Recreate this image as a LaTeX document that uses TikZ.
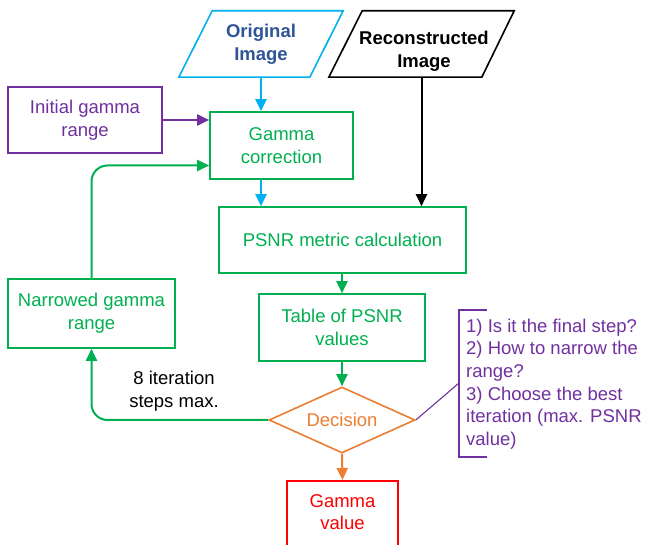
\documentclass[tikz,border=0pt]{standalone}
\usepackage{fontspec}
\setmainfont{Liberation Sans}
\usetikzlibrary{arrows.meta,shapes.geometric,calc}
\definecolor{cgreen}{RGB}{0,176,80}
\definecolor{ccyan}{RGB}{0,176,240}
\definecolor{cpurple}{RGB}{112,48,160}
\definecolor{corange}{RGB}{237,125,49}
\definecolor{cred}{RGB}{255,0,0}
\definecolor{cblue}{RGB}{47,85,151}
\begin{document}
\begin{tikzpicture}[x=1pt,y=-1pt,
  every node/.style={font=\fontsize{18.5}{22.6}\selectfont, align=center, inner sep=0pt},
  box/.style={draw, line width=1.6pt},
  arr/.style={-{Triangle[length=12pt,width=11pt]}, line width=2pt},
  note/.style={line width=1.1pt, cpurple}]
\useasboundingbox (0,0) rectangle (646,545);

% input parallelograms
\node[font=\fontsize{18.5}{22.6}\selectfont\bfseries, text=cblue, minimum width=164, minimum height=66] (orig) at (261,44) {Original\\Image};
\draw[ccyan, line width=1.6pt] (orig.south west) -- ++(131,0) -- (orig.north east) -- ++(-131,0) -- cycle;

\node[minimum width=185, minimum height=66] (rec) at (421.5,44) {};
\draw[black, line width=1.6pt] (rec.south west) -- ++(153,0) -- (rec.north east) -- ++(-152,0) -- cycle;
\node[font=\fontsize{18.5}{22.6}\selectfont\bfseries] (rectext) at (424,51) {Reconstructed\\Image};

% process boxes
\node[box, cpurple, text=cpurple, minimum width=154, minimum height=66] (init) at (85,120) {Initial gamma\\range};
\node[box, cgreen, text=cgreen, minimum width=143, minimum height=67] (gc) at (281.5,145.5) {Gamma\\correction};
\node[box, cgreen, text=cgreen, minimum width=247, minimum height=66] (psnr) at (342.5,240) {PSNR metric calculation};
\node[box, cgreen, text=cgreen, minimum width=166, minimum height=67] (tab) at (342,327.5) {Table of PSNR\\values};
\node[box, cgreen, text=cgreen, minimum width=167, minimum height=69] (nar) at (91.5,313.5) {Narrowed gamma\\range};
\node[draw, diamond, line width=1.6pt, corange, text=corange, aspect=2.21, minimum width=146, minimum height=66] (dec) at (342,420) {Decision};
\node[box, cred, minimum width=111, minimum height=80, anchor=north] (gv) at (342.5,480) {};
\node[text=cred] (gvtext) at (342.5,512) {Gamma\\value};

% connectors
\draw[arr, ccyan] (orig.south) -- (orig.south |- gc.north);
\draw[arr, cpurple] (init.east) -- (init.east -| gc.west);
\draw[arr, ccyan] (orig.south |- gc.south) -- (orig.south |- psnr.north);
\draw[arr, black] (rec.south) -- (rec.south |- psnr.north);
\draw[arr, cgreen] (psnr.south -| tab.north) -- (tab.north);
\draw[arr, cgreen] (tab.south) -- (dec.north);
\draw[arr, corange] (dec.south) -- (gv.north);
\draw[arr, cgreen, rounded corners=16pt] (dec.west) -| (nar.south);
\draw[arr, cgreen, rounded corners=16pt] (nar.north) |- ($(gc.west)+(0,20)$);
\node (iter) at (174,391) {8 iteration\\steps max.};

% annotation bracket
\coordinate (bt) at (487,310);
\coordinate (bb) at (487,457);
\coordinate (bj) at (459,383);
\draw[note] (dec.east) -- (bj);
\draw[note] (bt) -- (bt -| bj) -- (bb -| bj) -- (bb);
\node[text=cpurple, align=left, anchor=west] (notes) at (466,384) {1) Is it the final step?\\2) How to narrow the\\range?\\3) Choose the best\\iteration (max. PSNR\\value)};
\end{tikzpicture}
\end{document}
